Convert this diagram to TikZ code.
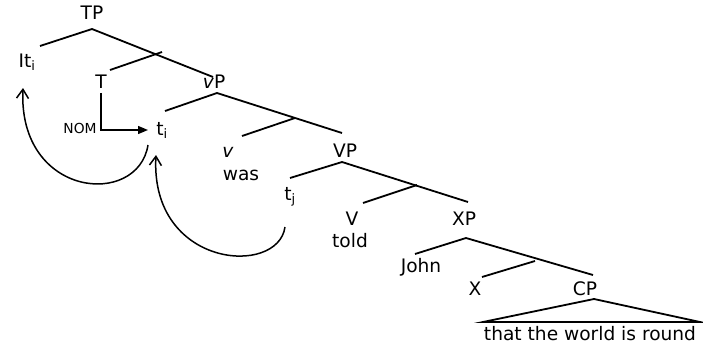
\documentclass[tikz,border=0pt]{standalone}
\usepackage{fontspec}
\setmainfont{DejaVu Sans}
\usetikzlibrary{arrows.meta}
\begin{document}
\begin{tikzpicture}[x=1pt,y=-1pt,
  line width=1.8pt,
  lbl/.style={anchor=base, inner sep=0pt, font=\fontsize{18.6}{20}\selectfont},
  small/.style={anchor=base, inner sep=0pt, font=\fontsize{13.8}{15}\selectfont},
  branch/.style={line width=1.8pt},
  nomarrow/.style={line width=1.4pt, -{Triangle[length=10pt,width=8pt]}},
  movearc/.style={line width=1.5pt, -{Straight Barb[length=9pt,width=12pt,line width=1.5pt]}}]
\useasboundingbox (0,0) rectangle (703,345);

% labels
\node[lbl] (TP) at (92,20) {TP};
\node[lbl] (It) at (27,67) {It\textsubscript{i}};
\node[lbl] (T) at (101,88) {T};
\node[lbl] (vP) at (214,88) {\textit{v}P};
\node[small] (NOM) at (80,133) {NOM};
\node[lbl] (ti) at (162,135) {t\textsubscript{i}};
\node[lbl] (v) at (228,157) {\textit{v}};
\node[lbl] (was) at (241,180) {was};
\node[lbl] (VP) at (345,157) {VP};
\node[lbl] (tj) at (290,200) {t\textsubscript{j}};
\node[lbl] (V) at (352,225) {V};
\node[lbl] (told) at (350,247) {told};
\node[lbl] (XP) at (464,225) {XP};
\node[lbl] (John) at (421,272) {John};
\node[lbl] (X) at (475,295) {X};
\node[lbl] (CP) at (585,295) {CP};
\node[lbl] (CPtext) at (590,340) {that the world is round};

% branch coordinates
\coordinate (tpA) at (92,29);
\coordinate (tpL) at (40,46);
\coordinate (tpR) at (213,77);
\coordinate (tpB) at (162,52);
\coordinate (tpT) at (110,70);

\coordinate (vpA) at (217,93);
\coordinate (vpL) at (165,111);
\coordinate (vpR) at (342,133);
\coordinate (vpB) at (295,118);
\coordinate (vpV) at (242,136);

\coordinate (VPA) at (342,162);
\coordinate (VPL) at (290,178);
\coordinate (VPR) at (468,202);
\coordinate (VPB) at (417,185);
\coordinate (VPV) at (363,203);

\coordinate (xpA) at (466,238);
\coordinate (xpL) at (415,254);
\coordinate (xpR) at (593,275);
\coordinate (xpB) at (535,261);
\coordinate (xpX) at (482,277);

\coordinate (cpA) at (594,299);
\coordinate (cpL) at (483,322);
\coordinate (cpR) at (700,322);

% branches
\draw[branch] (tpL) -- (tpA) -- (tpR);
\draw[branch] (tpB) -- (tpT);
\draw[branch] (vpL) -- (vpA) -- (vpR);
\draw[branch] (vpB) -- (vpV);
\draw[branch] (VPL) -- (VPA) -- (VPR);
\draw[branch] (VPB) -- (VPV);
\draw[branch] (xpL) -- (xpA) -- (xpR);
\draw[branch] (xpB) -- (xpX);
\draw[branch, line join=miter] (cpL) -- (cpA) -- (cpR) -- cycle;

% NOM arrow
\coordinate (nomEnd) at (148,130);
\draw[nomarrow] ([yshift=-4pt]T.south) |- (nomEnd);

% movement arcs
\coordinate (m1s) at (148,145);
\coordinate (m1e) at (23,88);
\draw[movearc] (m1s) .. controls (138,208) and (18,198) .. (m1e);
\coordinate (m2s) at (285,227);
\coordinate (m2e) at (156,155);
\draw[movearc] (m2s) .. controls (278,277) and (150,268) .. (m2e);
\end{tikzpicture}
\end{document}
